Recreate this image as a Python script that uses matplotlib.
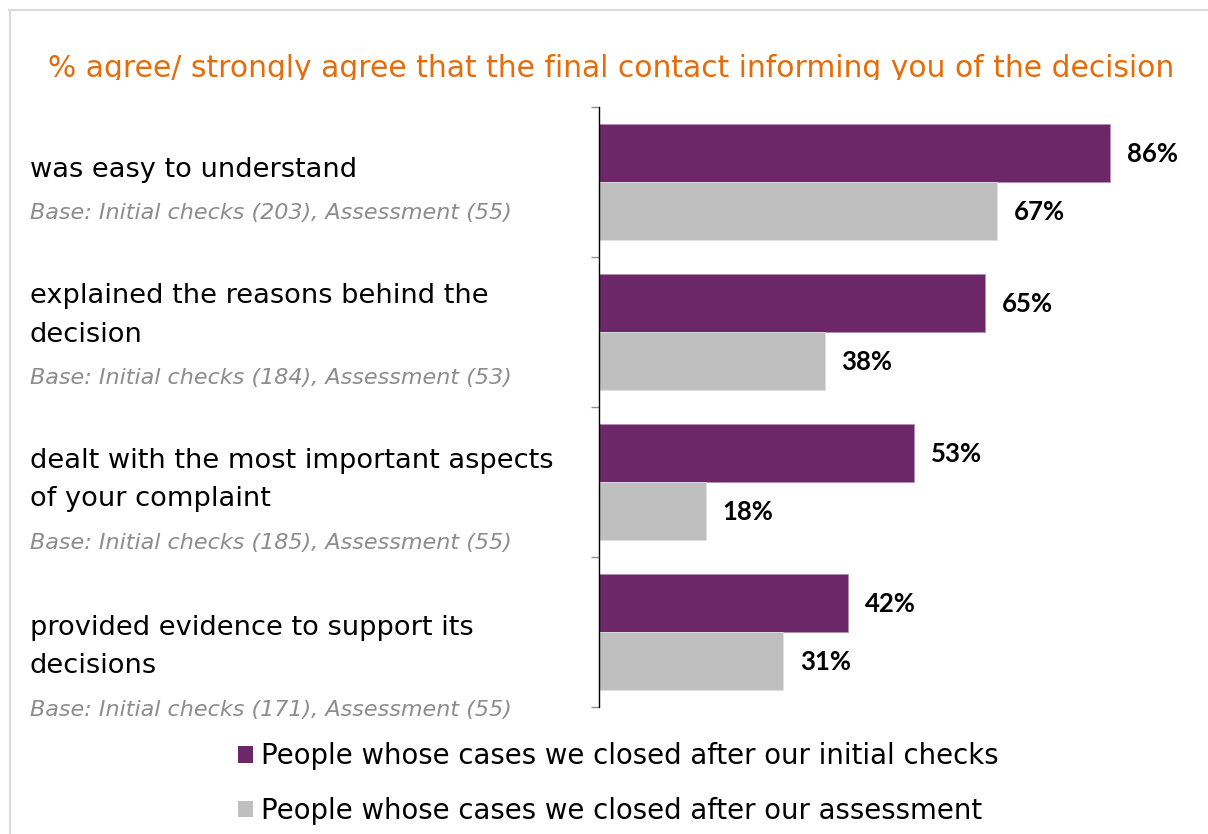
import matplotlib
matplotlib.use('Agg')

import matplotlib.pyplot as plt
from matplotlib.lines import Line2D
from matplotlib.patches import Patch
from matplotlib.transforms import Bbox, TransformedBbox
import numpy as np

# Datos
preguntas = ['was easy to understand',
             'explained the reasons behind the\ndecision',
             'dealt with the most important aspects\nof your complaint',
             'provided evidence to support its\ndecisions']
bases = ['Base: Initial checks (203), Assessment (55)',
         'Base: Initial checks (184), Assessment (53)',
         'Base: Initial checks (185), Assessment (55)',
         'Base: Initial checks (171), Assessment (55)']
chequeos = [86, 65, 53, 42]
evaluacion = [67, 38, 18, 31]
series = ['People whose cases we closed after our initial checks',
          'People whose cases we closed after our assessment']
titulo = '% agree/ strongly agree that the final contact informing you of the decision'

# Estilo
W, H = 1208, 834
c_morado = '#6C2768'
c_gris = '#BFBFBF'
c_naranja = '#E46C0A'
fuente = 'DejaVu Sans'
plt.rc('font', family=fuente)

# filas (en pixeles desde arriba) de los textos de la izquierda
filas_preg = [[170], [296, 335], [461, 499], [628, 666]]
filas_base = [213, 378, 543, 710]


def fy(px):
    return 1 - px / H


fig = plt.figure(figsize=(W / 100, H / 100), dpi=100)
ax = fig.add_axes([599 / W, fy(707), 594 / W, 600 / H])

y = np.arange(len(preguntas))
alto = 0.387
b1 = ax.barh(y - alto / 2, chequeos, height=alto, color=c_morado,
             edgecolor='#B48FB2', linewidth=0.6)
b2 = ax.barh(y + alto / 2, evaluacion, height=alto, color=c_gris,
             edgecolor='#E0E0E0', linewidth=0.6)

for barras, vals in [(b1, chequeos), (b2, evaluacion)]:
    for barra, v in zip(barras, vals):
        ax.annotate('%d%%' % v,
                    xy=(v, barra.get_y() + barra.get_height() / 2),
                    xytext=(12, -1), textcoords='offset points',
                    ha='left', va='center', fontsize=18.5,
                    fontweight='bold', family='Lato', color='black')

ax.set_xlim(0, 100)
ax.set_ylim(len(preguntas) - 0.5, -0.5)
ax.set_xticks([])
ax.set_yticks(np.arange(len(preguntas) + 1) - 0.5)
ax.set_yticklabels([])
ax.tick_params(axis='y', length=6, width=1, color='#909090')
for lado in ['top', 'right', 'bottom']:
    ax.spines[lado].set_visible(False)
ax.spines['left'].set_linewidth(1.0)
ax.spines['left'].set_color('black')

# Textos de las preguntas y bases
for preg, filas, base, fb in zip(preguntas, filas_preg, bases, filas_base):
    for linea, f in zip(preg.split('\n'), filas):
        fig.text(30 / W, fy(f), linea, ha='left', va='center',
                 fontsize=19.6, color='black')
    fig.text(30 / W, fy(fb), base, ha='left', va='center',
             fontsize=16, style='italic', color='#8C8C8C')

# Titulo (recortado por abajo como en el original)
t = fig.text(48 / W, fy(77), titulo, ha='left', va='baseline',
             fontsize=21.4, color=c_naranja)
t.set_clip_box(TransformedBbox(Bbox([[0, fy(80)], [1, 1]]), fig.transFigure))
t.set_clip_on(True)

# Leyenda
manejadores = [Patch(facecolor=c_morado), Patch(facecolor=c_gris)]
fig.legend(manejadores, series, loc='upper left',
           bbox_to_anchor=(238 / W, fy(742)), frameon=False,
           fontsize=19.8, handlelength=0.55, handleheight=0.55,
           handletextpad=0.3, labelspacing=0.97, borderpad=0,
           borderaxespad=0)

# Marco gris
fig.add_artist(Line2D([9 / W, 1], [fy(10), fy(10)], color='#D9D9D9',
                      lw=1.5, transform=fig.transFigure))
fig.add_artist(Line2D([10 / W, 10 / W], [fy(10), 0], color='#D9D9D9',
                      lw=1.5, transform=fig.transFigure))

fig.savefig('out.png', dpi=100)
